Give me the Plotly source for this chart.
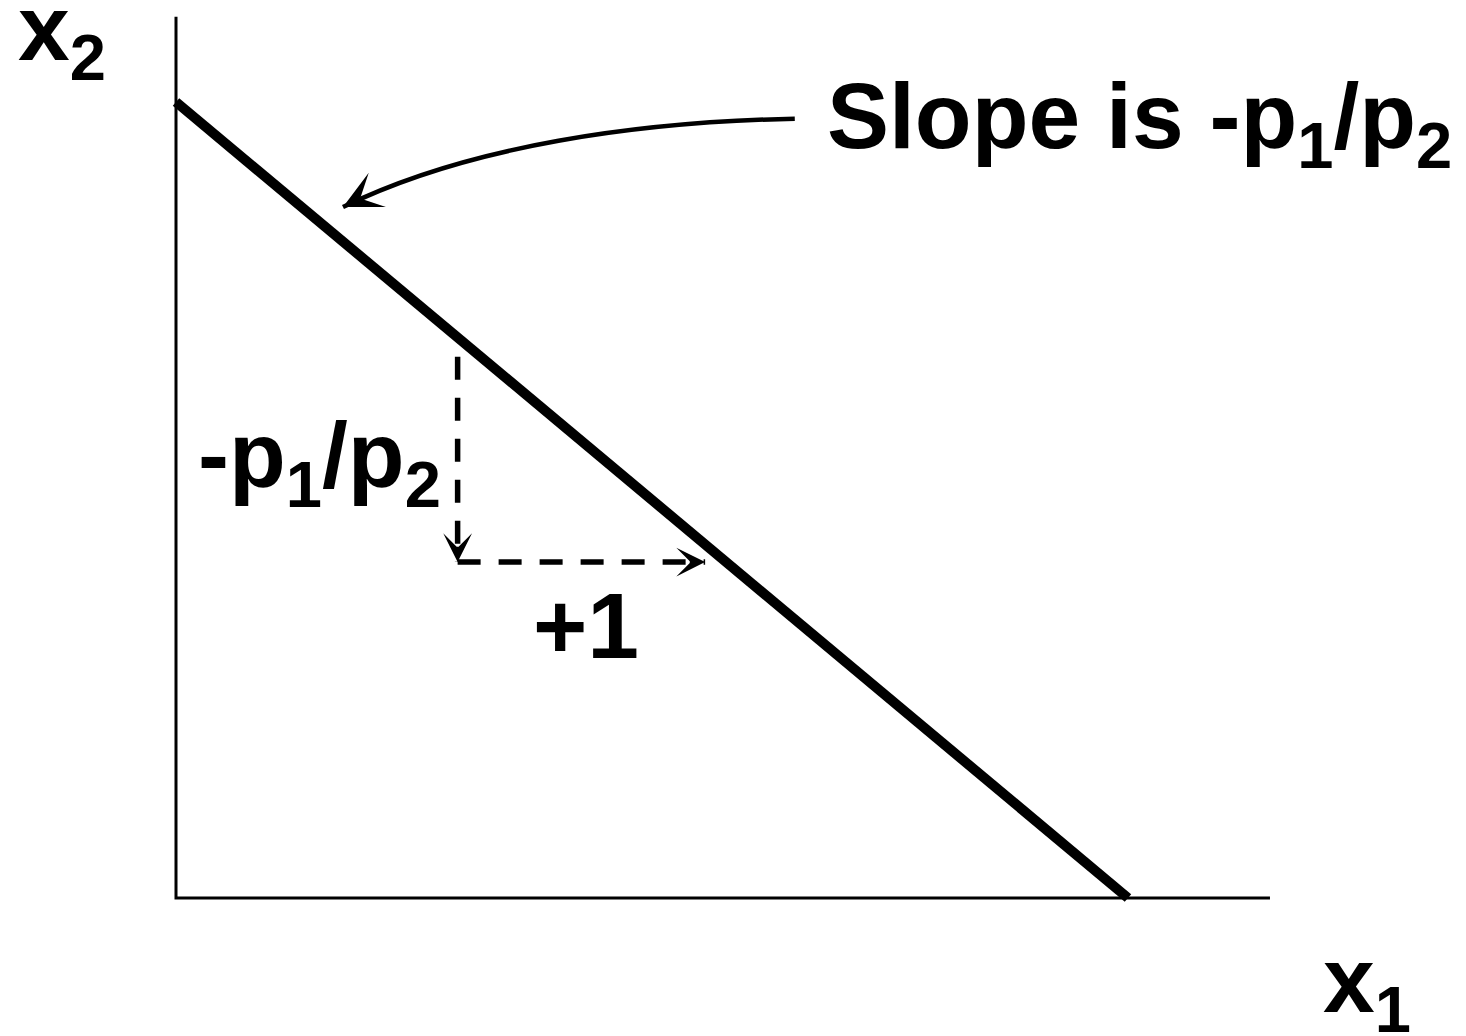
import plotly.graph_objects as go

# ---- data (economic units) ----
income = 60.0
p1 = 5.0
p2 = 6.0
x1_intercept = income / p1          # 12
x2_intercept = income / p2          # 10
axis_x_end = [13.79]
axis_y_end = [11.07]

# slope triangle
tri_x0 = 3.55
tri_y_top = 6.80
tri_y_bottom = 4.22
tri_x_right = 6.67

# curved call-out arrow (cubic bezier control points)
callout_x = [7.80, 5.85, 3.706, 2.105]
callout_y = [9.79, 9.75, 9.46, 8.68]

# figure scale
W, H = 1466, 1036
x_range = [-2.2185, 16.261]
y_range = [-1.7337, 11.2814]

FONT = "Liberation Sans, Arial, sans-serif"
FS = 93

fig = go.Figure()

# axes
fig.add_trace(go.Scatter(x=[0, 0, axis_x_end[0]], y=[axis_y_end[0], 0, 0], mode="lines",
                         line=dict(color="black", width=3), hoverinfo="skip"))
# budget line
fig.add_trace(go.Scatter(x=[0, x1_intercept], y=[x2_intercept, 0], mode="lines",
                         line=dict(color="black", width=10), hoverinfo="skip"))
# dashed triangle
fig.add_trace(go.Scatter(x=[tri_x0, tri_x0], y=[tri_y_top, tri_y_bottom], mode="lines",
                         line=dict(color="black", width=5.5, dash="23px,18px"), hoverinfo="skip"))
fig.add_trace(go.Scatter(x=[tri_x0, tri_x_right], y=[tri_y_bottom, tri_y_bottom], mode="lines",
                         line=dict(color="black", width=5.5, dash="23px,18px"), hoverinfo="skip"))

cx, cy = callout_x, callout_y
path = (f"M {cx[0]},{cy[0]} C {cx[1]},{cy[1]} {cx[2]},{cy[2]} {cx[3]},{cy[3]}")
shapes = [dict(type="path", path=path, xref="x", yref="y",
               line=dict(color="black", width=4.5), layer="above")]

annotations = []
# arrowheads
annotations.append(dict(x=cx[3], y=cy[3], xref="x", yref="y", text="", showarrow=True,
                        arrowhead=3, arrowsize=1.6, arrowwidth=4, arrowcolor="black",
                        ax=18, ay=-9))
annotations.append(dict(x=tri_x0, y=tri_y_bottom, xref="x", yref="y", text="", showarrow=True,
                        arrowhead=3, arrowsize=1.6, arrowwidth=3, arrowcolor="black",
                        ax=0, ay=-14))
annotations.append(dict(x=tri_x_right, y=tri_y_bottom, xref="x", yref="y", text="", showarrow=True,
                        arrowhead=3, arrowsize=1.6, arrowwidth=3, arrowcolor="black",
                        ax=-14, ay=0))


def label(text, left_px, center_px):
    annotations.append(dict(text=text, x=left_px / W, y=1 - center_px / H, xref="paper", yref="paper",
                            xanchor="left", yanchor="middle", showarrow=False, borderpad=0,
                            font=dict(family=FONT, size=FS, color="black")))


label("<b>x<sub>2</sub></b>", 17, 35)
label("<b>Slope is -p<sub>1</sub>/p<sub>2</sub></b>", 826, 123)
label("<b>-p<sub>1</sub>/p<sub>2</sub></b>", 197, 462)
label("<b>+1</b>", 532, 626)
label("<b>x<sub>1</sub></b>", 1322, 987)

fig.update_layout(
    width=W, height=H,
    margin=dict(l=0, r=0, t=0, b=0),
    paper_bgcolor="white", plot_bgcolor="white",
    showlegend=False,
    xaxis=dict(range=x_range, visible=False, fixedrange=True),
    yaxis=dict(range=y_range, visible=False, fixedrange=True),
    shapes=shapes,
    annotations=annotations,
)

fig.write_html("out.html", config={"displayModeBar": False},
               post_script="document.body.style.margin='0px';document.body.style.overflow='hidden';")
